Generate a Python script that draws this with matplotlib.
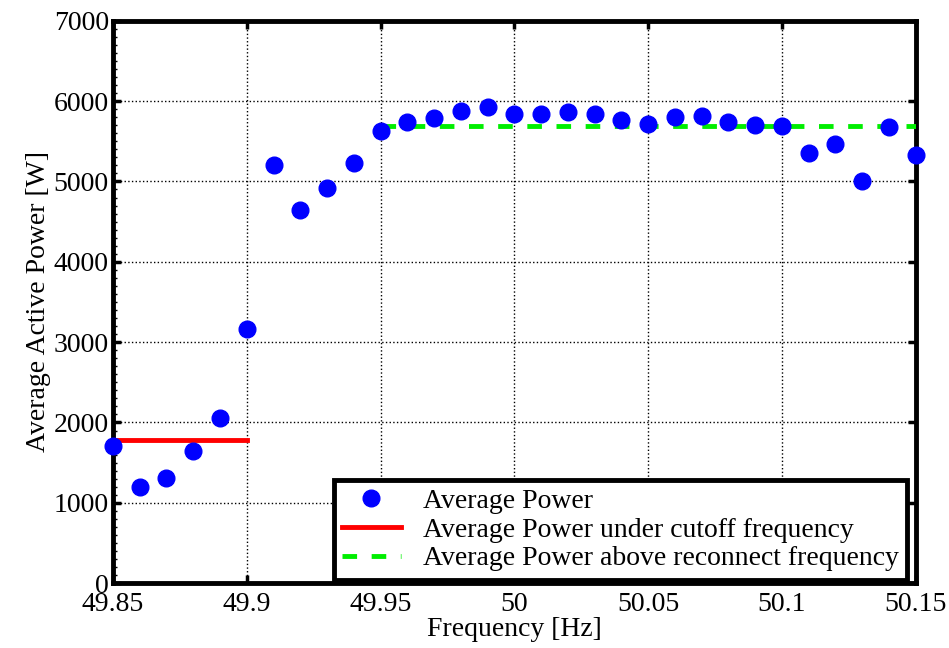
import matplotlib
matplotlib.use("Agg")
import matplotlib.pyplot as plt
from matplotlib.ticker import MultipleLocator

plt.rcParams.update({"font.family": "Liberation Serif", "font.size": 20})

# measured average active power per frequency bin
freq = [49.85, 49.86, 49.87, 49.88, 49.89, 49.90, 49.91, 49.92, 49.93, 49.94,
        49.95, 49.96, 49.97, 49.98, 49.99, 50.00, 50.01, 50.02, 50.03, 50.04,
        50.05, 50.06, 50.07, 50.08, 50.09, 50.10, 50.11, 50.12, 50.13, 50.14,
        50.15]
power = [1705, 1195, 1310, 1645, 2055, 3165, 5205, 4645, 4920, 5230,
         5630, 5740, 5790, 5880, 5930, 5845, 5845, 5865, 5845, 5765,
         5715, 5805, 5815, 5740, 5705, 5690, 5355, 5470, 5005, 5680,
         5330]

under_x = [49.85, 49.90]
under_avg = 1780
above_x = [49.95, 50.15]
above_avg = 5690

fig = plt.figure(figsize=(9.49, 6.48), dpi=100)
ax = fig.add_axes([0.119, 0.100, 0.846, 0.868])

ax.plot(freq, power, "o", color="#0000ff", markersize=12, label="Average Power",
        zorder=5, clip_on=False)
ax.plot(under_x, [under_avg] * 2, "-", color="#ff0000", linewidth=3.5,
        label="Average Power under cutoff frequency", zorder=3)
ax.plot(above_x, [above_avg] * 2, "--", color="#00ee00", linewidth=3.5,
        dashes=(3, 3), label="Average Power above reconnect frequency", zorder=3)

ax.set_xlim(49.85, 50.15)
ax.set_ylim(0, 7000)
ax.set_xticks([49.85, 49.9, 49.95, 50, 50.05, 50.1, 50.15])
ax.set_xticklabels(["49.85", "49.9", "49.95", "50", "50.05", "50.1", "50.15"])
ax.yaxis.set_major_locator(MultipleLocator(1000))
ax.yaxis.set_minor_locator(MultipleLocator(100))
ax.tick_params(which="major", direction="in", top=True, right=True,
               length=6, width=2.5, labelsize=20)
ax.tick_params(axis="x", pad=6)
ax.tick_params(axis="y", pad=3)
ax.tick_params(which="minor", direction="in", left=True, right=False,
               length=3, width=1)
ax.grid(True, which="major", linestyle=":", color="black", linewidth=1)

for sp in ax.spines.values():
    sp.set_linewidth(3.5)

ax.set_xlabel("Frequency [Hz]", labelpad=0)
ax.set_ylabel("Average Active Power [W]", labelpad=2)

leg = ax.legend(loc="lower right", bbox_to_anchor=(0.989, 0.006), fancybox=False,
                framealpha=1, edgecolor="black", handlelength=2.1,
                borderpad=0.3, labelspacing=0.12, handletextpad=0.8,
                borderaxespad=0, fontsize=20)
leg.get_frame().set_linewidth(3.5)

fig.savefig("out.png", dpi=100, facecolor="white")
